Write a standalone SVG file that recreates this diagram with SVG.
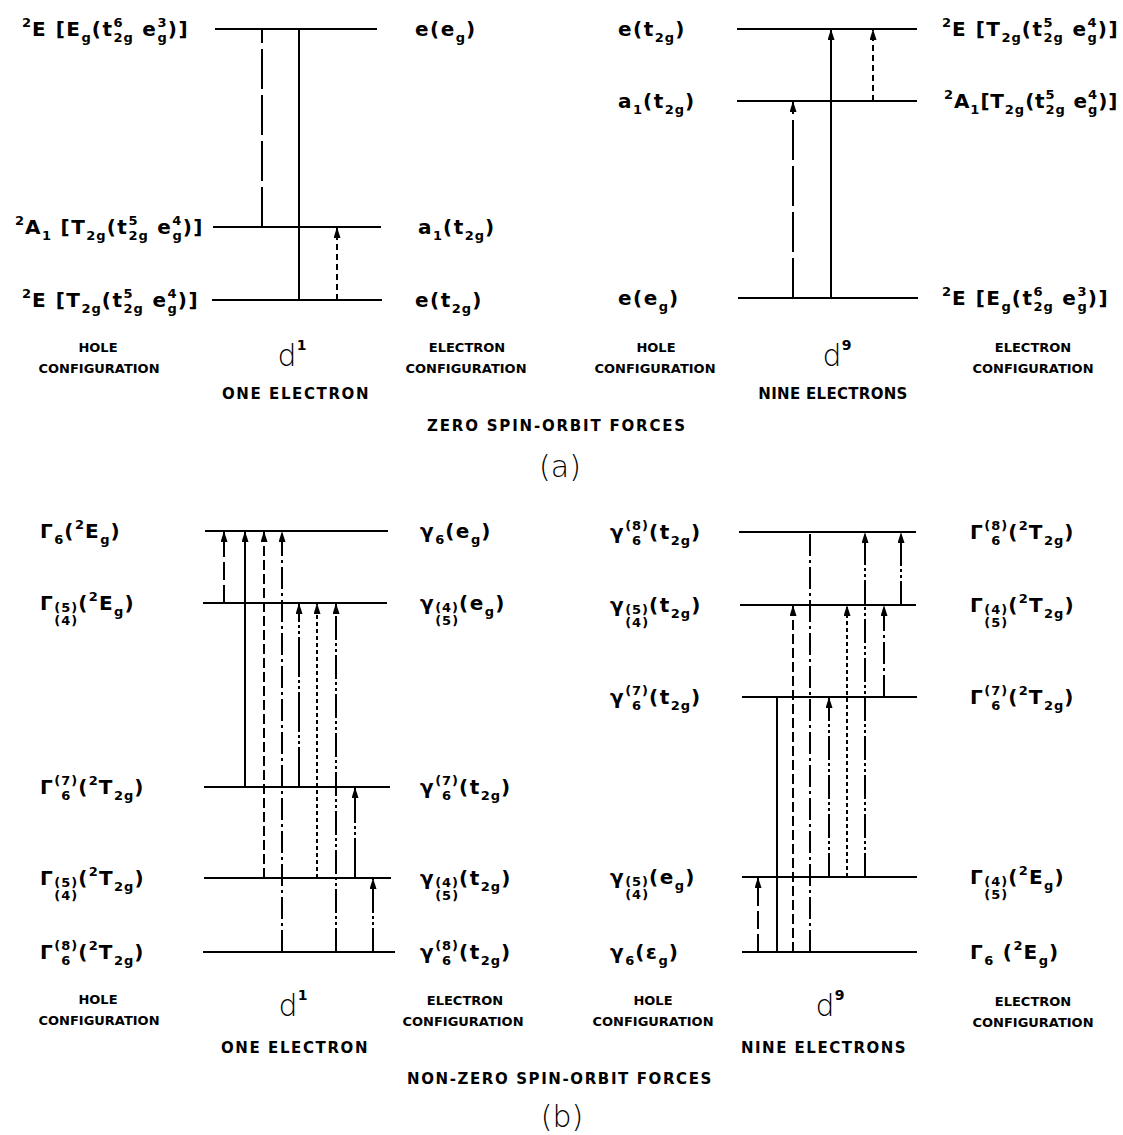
<svg xmlns="http://www.w3.org/2000/svg" width="1123" height="1135" viewBox="0 0 1123 1135">
<style>
.lv{stroke:#000;stroke-width:2;fill:none}
.c{stroke:#000;stroke-width:2;fill:none}
.ar{marker-end:url(#ah)}
.ld40{stroke-dasharray:40 6}
.sd{stroke-dasharray:6 4}
.ld{stroke-dasharray:18 5}
.d{stroke-dasharray:10 4}
.dt{stroke-dasharray:4 3}
.dd{stroke-dasharray:22 4 3 4}
.ddd{stroke-dasharray:24 3 3 3 3 3}
.dddl{stroke-dasharray:40 3 3 3 3 3}
.t{font-family:"DejaVu Sans","Liberation Sans",sans-serif;font-size:20px;font-weight:bold;letter-spacing:1.5px;fill:#000}
.s{font-size:13px;letter-spacing:1px}
.cap{font-family:"DejaVu Sans","Liberation Sans",sans-serif;font-size:13px;font-weight:bold;text-anchor:middle;fill:#000}
.sub{font-family:"DejaVu Sans","Liberation Sans",sans-serif;font-size:15px;font-weight:bold;text-anchor:middle;fill:#000}
.dl{font-family:"DejaVu Sans","Liberation Sans",sans-serif;font-size:30px;font-weight:200;text-anchor:middle;fill:#000}
.ds{font-size:14px;font-weight:bold}
</style>
<defs>
<marker id="ah" viewBox="0 0 11 7" refX="11" refY="3.5" markerWidth="11" markerHeight="7" markerUnits="userSpaceOnUse" orient="auto">
<path d="M0,0 L11,3.5 L0,7 z" fill="#000"/>
</marker>
</defs>
<rect width="1123" height="1135" fill="#fff"/>

<!-- (a) d1 levels -->
<g id="a-d1-E-eg">
<line class="lv" x1="215" y1="29" x2="377" y2="29"/>
<text class="t" x="22" y="36"><tspan class="s" dy="-9">2</tspan><tspan dy="9">E [E</tspan><tspan class="s" dy="6">g</tspan><tspan dy="-6">(t</tspan><tspan class="s" dy="-9">6</tspan><tspan class="s" dx="-10" dy="15">2g</tspan><tspan dy="-6"> e</tspan><tspan class="s" dy="-9">3</tspan><tspan class="s" dx="-10" dy="15">g</tspan><tspan dy="-6">)]</tspan></text>
<text class="t" x="415" y="36">e(e<tspan class="s" dy="6">g</tspan><tspan dy="-6">)</tspan></text>
</g>
<g id="a-d1-A1">
<line class="lv" x1="213" y1="227" x2="381" y2="227"/>
<text class="t" x="15" y="234"><tspan class="s" dy="-9">2</tspan><tspan dy="9">A</tspan><tspan class="s" dy="6">1</tspan><tspan dy="-6"> [T</tspan><tspan class="s" dy="6">2g</tspan><tspan dy="-6">(t</tspan><tspan class="s" dy="-9">5</tspan><tspan class="s" dx="-10" dy="15">2g</tspan><tspan dy="-6"> e</tspan><tspan class="s" dy="-9">4</tspan><tspan class="s" dx="-10" dy="15">g</tspan><tspan dy="-6">)]</tspan></text>
<text class="t" x="418" y="234">a<tspan class="s" dy="6">1</tspan><tspan dy="-6">(t</tspan><tspan class="s" dy="6">2g</tspan><tspan dy="-6">)</tspan></text>
</g>
<g id="a-d1-E-t2g">
<line class="lv" x1="212" y1="300" x2="382" y2="300"/>
<text class="t" x="22" y="307"><tspan class="s" dy="-9">2</tspan><tspan dy="9">E [T</tspan><tspan class="s" dy="6">2g</tspan><tspan dy="-6">(t</tspan><tspan class="s" dy="-9">5</tspan><tspan class="s" dx="-10" dy="15">2g</tspan><tspan dy="-6"> e</tspan><tspan class="s" dy="-9">4</tspan><tspan class="s" dx="-10" dy="15">g</tspan><tspan dy="-6">)]</tspan></text>
<text class="t" x="415" y="307">e(t<tspan class="s" dy="6">2g</tspan><tspan dy="-6">)</tspan></text>
</g>

<!-- (a) d9 levels -->
<g id="a-d9-E-t2g">
<line class="lv" x1="737" y1="29" x2="917" y2="29"/>
<text class="t" x="618" y="36">e(t<tspan class="s" dy="6">2g</tspan><tspan dy="-6">)</tspan></text>
<text class="t" x="942" y="36"><tspan class="s" dy="-9">2</tspan><tspan dy="9">E [T</tspan><tspan class="s" dy="6">2g</tspan><tspan dy="-6">(t</tspan><tspan class="s" dy="-9">5</tspan><tspan class="s" dx="-10" dy="15">2g</tspan><tspan dy="-6"> e</tspan><tspan class="s" dy="-9">4</tspan><tspan class="s" dx="-10" dy="15">g</tspan><tspan dy="-6">)]</tspan></text>
</g>
<g id="a-d9-A1">
<line class="lv" x1="737" y1="101" x2="917" y2="101"/>
<text class="t" x="618" y="108">a<tspan class="s" dy="6">1</tspan><tspan dy="-6">(t</tspan><tspan class="s" dy="6">2g</tspan><tspan dy="-6">)</tspan></text>
<text class="t" x="944" y="108" style="letter-spacing:0.8px"><tspan class="s" dy="-9">2</tspan><tspan dy="9">A</tspan><tspan class="s" dy="6">1</tspan><tspan dy="-6">[T</tspan><tspan class="s" dy="6">2g</tspan><tspan dy="-6">(t</tspan><tspan class="s" dy="-9">5</tspan><tspan class="s" dx="-10" dy="15">2g</tspan><tspan dy="-6"> e</tspan><tspan class="s" dy="-9">4</tspan><tspan class="s" dx="-10" dy="15">g</tspan><tspan dy="-6">)]</tspan></text>
</g>
<g id="a-d9-E-eg">
<line class="lv" x1="738" y1="298" x2="918" y2="298"/>
<text class="t" x="618" y="305">e(e<tspan class="s" dy="6">g</tspan><tspan dy="-6">)</tspan></text>
<text class="t" x="942" y="305"><tspan class="s" dy="-9">2</tspan><tspan dy="9">E [E</tspan><tspan class="s" dy="6">g</tspan><tspan dy="-6">(t</tspan><tspan class="s" dy="-9">6</tspan><tspan class="s" dx="-10" dy="15">2g</tspan><tspan dy="-6"> e</tspan><tspan class="s" dy="-9">3</tspan><tspan class="s" dx="-10" dy="15">g</tspan><tspan dy="-6">)]</tspan></text>
</g>

<!-- (b) d1 levels -->
<g id="b-d1-1">
<line class="lv" x1="205" y1="531" x2="388" y2="531"/>
<text class="t" x="40" y="538">Γ<tspan class="s" dy="6">6</tspan><tspan dy="-6">(</tspan><tspan class="s" dy="-9">2</tspan><tspan dy="9">E</tspan><tspan class="s" dy="6">g</tspan><tspan dy="-6">)</tspan></text>
<text class="t" x="420" y="538">γ<tspan class="s" dy="6">6</tspan><tspan dy="-6">(e</tspan><tspan class="s" dy="6">g</tspan><tspan dy="-6">)</tspan></text>
</g>
<g id="b-d1-2">
<line class="lv" x1="203" y1="603" x2="387" y2="603"/>
<text class="t" x="40" y="610">Γ<tspan class="s" dy="2">(5)</tspan><tspan class="s" dx="-23.9" dy="13">(4)</tspan><tspan dy="-15">(</tspan><tspan class="s" dy="-9">2</tspan><tspan dy="9">E</tspan><tspan class="s" dy="6">g</tspan><tspan dy="-6">)</tspan></text>
<text class="t" x="420" y="610">γ<tspan class="s" dy="2">(4)</tspan><tspan class="s" dx="-23.9" dy="13">(5)</tspan><tspan dy="-15">(e</tspan><tspan class="s" dy="6">g</tspan><tspan dy="-6">)</tspan></text>
</g>
<g id="b-d1-3">
<line class="lv" x1="204" y1="787" x2="390" y2="787"/>
<text class="t" x="40" y="794">Γ<tspan class="s" dy="-9">(7)</tspan><tspan class="s" dx="-17" dy="15">6</tspan><tspan dx="6.9" dy="-6">(</tspan><tspan class="s" dy="-9">2</tspan><tspan dy="9">T</tspan><tspan class="s" dy="6">2g</tspan><tspan dy="-6">)</tspan></text>
<text class="t" x="420" y="794">γ<tspan class="s" dy="-9">(7)</tspan><tspan class="s" dx="-17" dy="15">6</tspan><tspan dx="6.9" dy="-6">(t</tspan><tspan class="s" dy="6">2g</tspan><tspan dy="-6">)</tspan></text>
</g>
<g id="b-d1-4">
<line class="lv" x1="204" y1="878" x2="391" y2="878"/>
<text class="t" x="40" y="885">Γ<tspan class="s" dy="2">(5)</tspan><tspan class="s" dx="-23.9" dy="13">(4)</tspan><tspan dy="-15">(</tspan><tspan class="s" dy="-9">2</tspan><tspan dy="9">T</tspan><tspan class="s" dy="6">2g</tspan><tspan dy="-6">)</tspan></text>
<text class="t" x="420" y="885">γ<tspan class="s" dy="2">(4)</tspan><tspan class="s" dx="-23.9" dy="13">(5)</tspan><tspan dy="-15">(t</tspan><tspan class="s" dy="6">2g</tspan><tspan dy="-6">)</tspan></text>
</g>
<g id="b-d1-5">
<line class="lv" x1="203" y1="952" x2="395" y2="952"/>
<text class="t" x="40" y="959">Γ<tspan class="s" dy="-9">(8)</tspan><tspan class="s" dx="-17" dy="15">6</tspan><tspan dx="6.9" dy="-6">(</tspan><tspan class="s" dy="-9">2</tspan><tspan dy="9">T</tspan><tspan class="s" dy="6">2g</tspan><tspan dy="-6">)</tspan></text>
<text class="t" x="420" y="959">γ<tspan class="s" dy="-9">(8)</tspan><tspan class="s" dx="-17" dy="15">6</tspan><tspan dx="6.9" dy="-6">(t</tspan><tspan class="s" dy="6">2g</tspan><tspan dy="-6">)</tspan></text>
</g>

<!-- (b) d9 levels -->
<g id="b-d9-1">
<line class="lv" x1="739" y1="532" x2="916" y2="532"/>
<text class="t" x="610" y="539">γ<tspan class="s" dy="-9">(8)</tspan><tspan class="s" dx="-17" dy="15">6</tspan><tspan dx="6.9" dy="-6">(t</tspan><tspan class="s" dy="6">2g</tspan><tspan dy="-6">)</tspan></text>
<text class="t" x="970" y="539">Γ<tspan class="s" dy="-9">(8)</tspan><tspan class="s" dx="-17" dy="15">6</tspan><tspan dx="6.9" dy="-6">(</tspan><tspan class="s" dy="-9">2</tspan><tspan dy="9">T</tspan><tspan class="s" dy="6">2g</tspan><tspan dy="-6">)</tspan></text>
</g>
<g id="b-d9-2">
<line class="lv" x1="740" y1="605" x2="916" y2="605"/>
<text class="t" x="610" y="612">γ<tspan class="s" dy="2">(5)</tspan><tspan class="s" dx="-23.9" dy="13">(4)</tspan><tspan dy="-15">(t</tspan><tspan class="s" dy="6">2g</tspan><tspan dy="-6">)</tspan></text>
<text class="t" x="970" y="612">Γ<tspan class="s" dy="2">(4)</tspan><tspan class="s" dx="-23.9" dy="13">(5)</tspan><tspan dy="-15">(</tspan><tspan class="s" dy="-9">2</tspan><tspan dy="9">T</tspan><tspan class="s" dy="6">2g</tspan><tspan dy="-6">)</tspan></text>
</g>
<g id="b-d9-3">
<line class="lv" x1="742" y1="697" x2="917" y2="697"/>
<text class="t" x="610" y="704">γ<tspan class="s" dy="-9">(7)</tspan><tspan class="s" dx="-17" dy="15">6</tspan><tspan dx="6.9" dy="-6">(t</tspan><tspan class="s" dy="6">2g</tspan><tspan dy="-6">)</tspan></text>
<text class="t" x="970" y="704">Γ<tspan class="s" dy="-9">(7)</tspan><tspan class="s" dx="-17" dy="15">6</tspan><tspan dx="6.9" dy="-6">(</tspan><tspan class="s" dy="-9">2</tspan><tspan dy="9">T</tspan><tspan class="s" dy="6">2g</tspan><tspan dy="-6">)</tspan></text>
</g>
<g id="b-d9-4">
<line class="lv" x1="742" y1="877" x2="917" y2="877"/>
<text class="t" x="610" y="884">γ<tspan class="s" dy="2">(5)</tspan><tspan class="s" dx="-23.9" dy="13">(4)</tspan><tspan dy="-15">(e</tspan><tspan class="s" dy="6">g</tspan><tspan dy="-6">)</tspan></text>
<text class="t" x="970" y="884">Γ<tspan class="s" dy="2">(4)</tspan><tspan class="s" dx="-23.9" dy="13">(5)</tspan><tspan dy="-15">(</tspan><tspan class="s" dy="-9">2</tspan><tspan dy="9">E</tspan><tspan class="s" dy="6">g</tspan><tspan dy="-6">)</tspan></text>
</g>
<g id="b-d9-5">
<line class="lv" x1="742" y1="952" x2="917" y2="952"/>
<text class="t" x="610" y="959">γ<tspan class="s" dy="6">6</tspan><tspan dy="-6">(ε</tspan><tspan class="s" dy="6">g</tspan><tspan dy="-6">)</tspan></text>
<text class="t" x="970" y="959">Γ<tspan class="s" dy="6">6</tspan><tspan dy="-6"> (</tspan><tspan class="s" dy="-9">2</tspan><tspan dy="9">E</tspan><tspan class="s" dy="6">g</tspan><tspan dy="-6">)</tspan></text>
</g>

<!-- connectors -->
<g id="connectors">
<line class="c ld40" x1="262" y1="227" x2="262" y2="29"/>
<line class="c" x1="299" y1="300" x2="299" y2="29"/>
<line class="c sd ar" x1="337" y1="300" x2="337" y2="227"/>
<line class="c ld40 ar" x1="793" y1="298" x2="793" y2="101"/>
<line class="c ar" x1="831" y1="298" x2="831" y2="29"/>
<line class="c sd ar" x1="873" y1="101" x2="873" y2="29"/>

<line class="c ld ar" x1="224" y1="603" x2="224" y2="531"/>
<line class="c ar" x1="245" y1="787" x2="245" y2="531"/>
<line class="c d ar" x1="264" y1="878" x2="264" y2="531"/>
<line class="c dd ar" x1="282" y1="952" x2="282" y2="531"/>
<line class="c dddl ar" x1="299" y1="787" x2="299" y2="603"/>
<line class="c dt ar" x1="317" y1="878" x2="317" y2="603"/>
<line class="c ddd ar" x1="336" y1="952" x2="336" y2="603"/>
<line class="c dddl ar" x1="355" y1="878" x2="355" y2="787"/>
<line class="c ddd ar" x1="373" y1="952" x2="373" y2="878"/>

<line class="c ld ar" x1="758" y1="952" x2="758" y2="877"/>
<line class="c" x1="777" y1="952" x2="777" y2="697"/>
<line class="c d ar" x1="793" y1="952" x2="793" y2="605"/>
<line class="c dd" x1="810" y1="952" x2="810" y2="532"/>
<line class="c ddd ar" x1="829" y1="877" x2="829" y2="697"/>
<line class="c dt ar" x1="847" y1="877" x2="847" y2="605"/>
<line class="c ddd ar" x1="865" y1="877" x2="865" y2="532"/>
<line class="c dd ar" x1="884" y1="697" x2="884" y2="605"/>
<line class="c ddd ar" x1="901" y1="605" x2="901" y2="532"/>
</g>

<!-- captions (a) -->
<g id="captions-a">
<text class="cap" x="98" y="352">HOLE</text>
<text class="cap" x="99" y="373">CONFIGURATION</text>
<text class="dl" x="292" y="366">d<tspan class="ds" dy="-16">1</tspan></text>
<text class="sub" x="296" y="399" style="letter-spacing:1.6px">ONE ELECTRON</text>
<text class="cap" x="467" y="352">ELECTRON</text>
<text class="cap" x="466" y="373">CONFIGURATION</text>
<text class="cap" x="656" y="352">HOLE</text>
<text class="cap" x="655" y="373">CONFIGURATION</text>
<text class="dl" x="837" y="366">d<tspan class="ds" dy="-16">9</tspan></text>
<text class="sub" x="833" y="399" style="letter-spacing:0.3px">NINE ELECTRONS</text>
<text class="cap" x="1033" y="352">ELECTRON</text>
<text class="cap" x="1033" y="373">CONFIGURATION</text>
<text class="sub" x="557" y="431" style="letter-spacing:1.8px">ZERO SPIN-ORBIT FORCES</text>
<text class="dl" x="560" y="477">(a)</text>
</g>

<!-- captions (b) -->
<g id="captions-b">
<text class="cap" x="98" y="1004">HOLE</text>
<text class="cap" x="99" y="1025">CONFIGURATION</text>
<text class="dl" x="293" y="1016">d<tspan class="ds" dy="-16">1</tspan></text>
<text class="sub" x="295" y="1053" style="letter-spacing:1.6px">ONE ELECTRON</text>
<text class="cap" x="465" y="1005">ELECTRON</text>
<text class="cap" x="463" y="1026">CONFIGURATION</text>
<text class="cap" x="653" y="1005">HOLE</text>
<text class="cap" x="653" y="1026">CONFIGURATION</text>
<text class="dl" x="830" y="1016">d<tspan class="ds" dy="-16">9</tspan></text>
<text class="sub" x="824" y="1053" style="letter-spacing:1.5px">NINE ELECTRONS</text>
<text class="cap" x="1033" y="1006">ELECTRON</text>
<text class="cap" x="1033" y="1027">CONFIGURATION</text>
<text class="sub" x="560" y="1084" style="letter-spacing:1.6px">NON-ZERO SPIN-ORBIT FORCES</text>
<text class="dl" x="562" y="1127">(b)</text>
</g>
</svg>
